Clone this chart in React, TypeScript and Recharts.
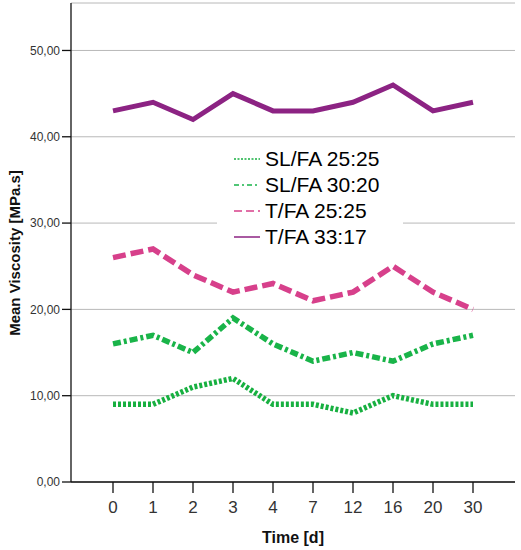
import React from 'react';
import { LineChart, Line, XAxis, YAxis, CartesianGrid, Legend } from 'recharts';

const times = ['0', '1', '2', '3', '4', '7', '12', '16', '20', '30'];
const slfa2525 = [9, 9, 11, 12, 9, 9, 8, 10, 9, 9];
const slfa3020 = [16, 17, 15, 19, 16, 14, 15, 14, 16, 17];
const tfa2525 = [26, 27, 24, 22, 23, 21, 22, 25, 22, 20];
const tfa3317 = [43, 44, 42, 45, 43, 43, 44, 46, 43, 44];
const yTicks = [0, 10, 20, 30, 40, 50];

const FONT = "Arial, 'Liberation Sans', sans-serif";

const series = [
  { key: 'slfa2525', name: 'SL/FA 25:25', color: '#17b040', dash: '3 2', legendDash: '2 1.5' },
  { key: 'slfa3020', name: 'SL/FA 30:20', color: '#19b449', dash: '8 3 3 3', legendDash: '5 3 2 3' },
  { key: 'tfa2525', name: 'T/FA 25:25', color: '#d7408b', dash: '13 5', legendDash: '8 4' },
  { key: 'tfa3317', name: 'T/FA 33:17', color: '#8c2383', dash: undefined, legendDash: undefined },
];

const data = times.map((t, i) => ({
  time: t,
  slfa2525: slfa2525[i],
  slfa3020: slfa3020[i],
  tfa2525: tfa2525[i],
  tfa3317: tfa3317[i],
}));

const fmt = (v: number) => v.toFixed(2).replace('.', ',');

function YTitle() {
  return (
    <text
      x={14}
      y={253}
      transform="rotate(-90 14 253)"
      textAnchor="middle"
      dominantBaseline="central"
      fontFamily={FONT}
      fontWeight="bold"
      fontSize={15}
      fill="#111"
    >
      Mean Viscosity [MPa.s]
    </text>
  );
}

function LegendBox() {
  return (
    <div style={{ background: '#fff', padding: '0', width: 186, fontFamily: FONT }}>
      {series.map((s) => (
        <div key={s.key} style={{ display: 'flex', alignItems: 'center', height: 26 }}>
          <svg width={48} height={26} style={{ display: 'block' }}>
            <line
              x1={17}
              x2={43}
              y1={13}
              y2={13}
              stroke={s.color}
              strokeWidth={1.5}
              strokeDasharray={s.legendDash}
            />
          </svg>
          <span style={{ fontSize: 21, color: '#000', lineHeight: '26px' }}>{s.name}</span>
        </div>
      ))}
    </div>
  );
}

export default function App() {
  return (
    <div style={{ position: 'absolute', left: 0, top: 0, width: 521, height: 550, background: '#fff' }}>
      <LineChart width={521} height={550} data={data} margin={{ top: 3, right: 6, bottom: 0, left: 0 }}>
        <CartesianGrid vertical={false} stroke="#b8b8b8" />
        <XAxis
          dataKey="time"
          height={68}
          padding={{ left: 42, right: 42 }}
          tickSize={11}
          tickMargin={8}
          stroke="#111"
          strokeWidth={1.3}
          tick={{ fontSize: 17, fontFamily: FONT, fill: '#333' }}
          label={{
            value: 'Time [d]',
            position: 'insideBottom',
            offset: 7,
            fontSize: 16,
            fontWeight: 'bold',
            fontFamily: FONT,
            fill: '#111',
          }}
        />
        <XAxis xAxisId="top" dataKey="time" orientation="top" height={0} tick={false} tickLine={false} stroke="#111" strokeWidth={1.3} />
        <YAxis
          width={71}
          domain={[0, 55.5]}
          ticks={yTicks}
          tickFormatter={fmt}
          tickSize={9}
          tickMargin={2}
          stroke="#111"
          strokeWidth={1.3}
          tick={{ fontSize: 12, fontFamily: FONT, fill: '#333' }}
          label={<YTitle />}
        />
        <YAxis yAxisId="right" orientation="right" width={0} domain={[0, 55.5]} tick={false} tickLine={false} stroke="#111" strokeWidth={1.3} />
        <Legend
          layout="vertical"
          align="center"
          verticalAlign="middle"
          content={<LegendBox />}
          wrapperStyle={{ left: 217, top: 146, width: 186 }}
        />
        {series.map((s) => (
          <Line
            key={s.key}
            dataKey={s.key}
            name={s.name}
            stroke={s.color}
            strokeWidth={s.dash ? 5.5 : 5}
            strokeDasharray={s.dash}
            strokeLinecap="butt"
            dot={false}
            activeDot={false}
            isAnimationActive={false}
          />
        ))}
      </LineChart>
    </div>
  );
}
